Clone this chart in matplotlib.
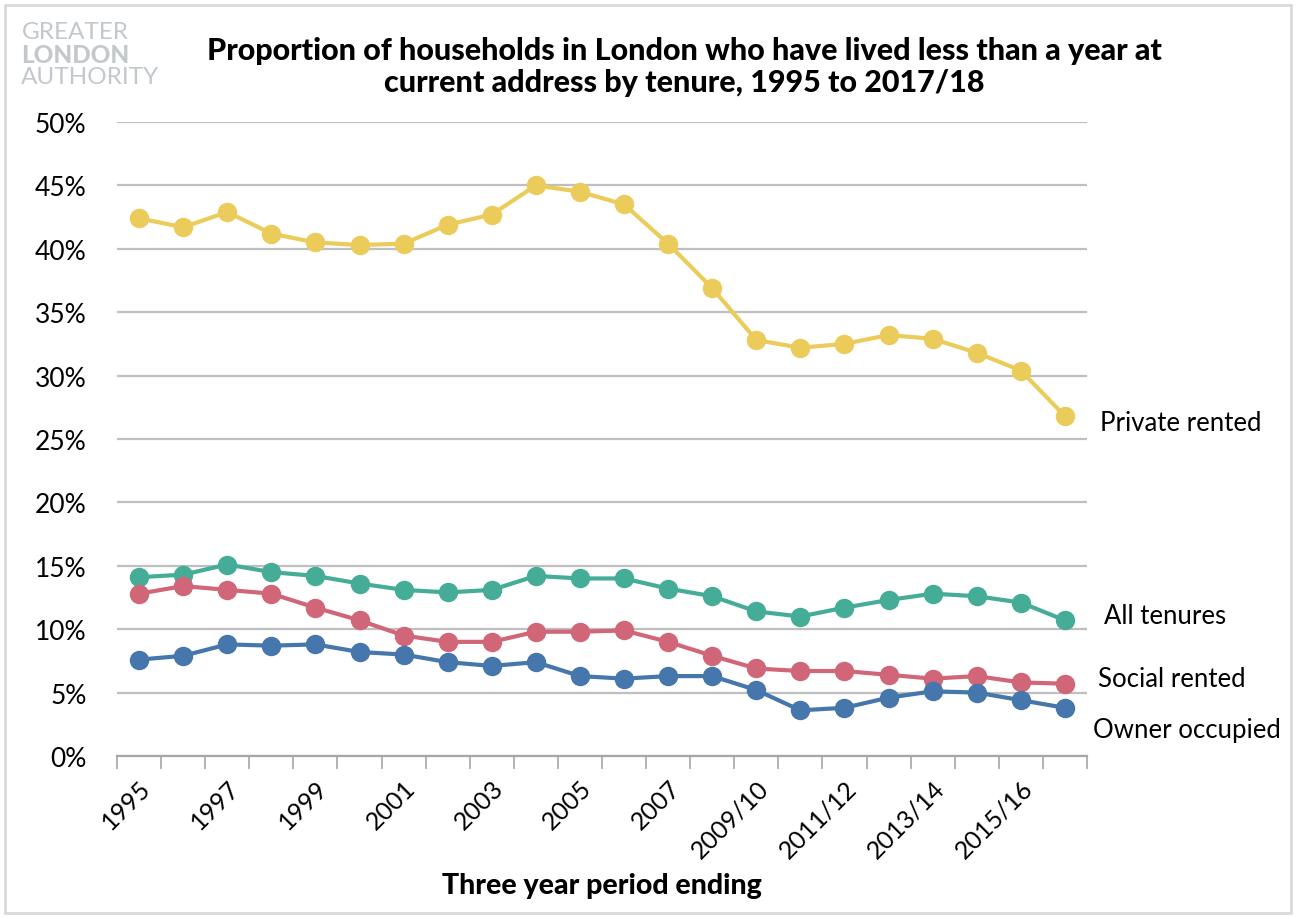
import numpy as np
import matplotlib
matplotlib.use("Agg")
import matplotlib.pyplot as plt
import matplotlib.transforms as mtransforms
from matplotlib.patches import Rectangle

plt.rcParams['font.family'] = ['Lato', 'DejaVu Sans']

periods = ["1995", "1996", "1997", "1998", "1999", "2000", "2001", "2002",
           "2003", "2004", "2005", "2006", "2007", "2008", "2009/10", "2010/11",
           "2011/12", "2012/13", "2013/14", "2014/15", "2015/16", "2016/17"]

private_rented = [42.4, 41.7, 42.9, 41.2, 40.5, 40.3, 40.4, 41.9, 42.7, 45.0, 44.5,
                  43.5, 40.4, 36.9, 32.8, 32.2, 32.5, 33.2, 32.9, 31.8, 30.4, 26.8]
all_tenures = [14.1, 14.3, 15.1, 14.5, 14.2, 13.6, 13.1, 12.9, 13.1, 14.2, 14.0,
               14.0, 13.2, 12.6, 11.4, 11.0, 11.7, 12.3, 12.8, 12.6, 12.1, 10.7]
social_rented = [12.8, 13.4, 13.1, 12.8, 11.7, 10.7, 9.5, 9.0, 9.0, 9.8, 9.8,
                 9.9, 9.0, 7.9, 6.9, 6.7, 6.7, 6.4, 6.1, 6.3, 5.8, 5.7]
owner_occupied = [7.6, 7.9, 8.8, 8.7, 8.8, 8.2, 8.0, 7.4, 7.1, 7.4, 6.3,
                  6.1, 6.3, 6.3, 5.2, 3.6, 3.8, 4.6, 5.1, 5.0, 4.4, 3.8]

series = [
    ("Private rented", private_rented, "#EBCB5A", 26.3),
    ("All tenures", all_tenures, "#45AD97", 11.1),
    ("Social rented", social_rented, "#D06677", 6.1),
    ("Owner occupied", owner_occupied, "#4576AC", 2.1),
]
label_x = [1.013, 1.018, 1.011, 1.006]

fig = plt.figure(figsize=(12.96, 9.2), dpi=100)
ax = fig.add_axes([0.0903, 0.1772, 0.7484, 0.6891])

x = np.arange(len(periods))
for (name, vals, col, ly), lx in zip(series, label_x):
    ax.plot(x, vals, color=col, lw=3, marker="o", markersize=13,
            solid_capstyle="round", zorder=3, clip_on=False)
    trans = mtransforms.blended_transform_factory(ax.transAxes, ax.transData)
    ax.text(lx, ly, name, transform=trans, fontsize=18.5, va="center",
            ha="left", color="black")

ax.set_xlim(-0.5, len(periods) - 0.5)
ax.set_ylim(0, 50)
ax.set_yticks(np.arange(0, 51, 5))
ax.set_yticklabels([f"{v}%" for v in range(0, 51, 5)], fontsize=19)
ax.yaxis.grid(True, color="#BFBFBF", lw=1.6)
ax.set_axisbelow(True)
ax.tick_params(axis="y", length=0, pad=22)

ax.set_xticks(x[::2])
ax.set_xticklabels(periods[::2], rotation=45, ha="right",
                   rotation_mode="anchor", fontsize=18)
shift = mtransforms.ScaledTranslation(-8 / 100, -4 / 100, fig.dpi_scale_trans)
for lab in ax.get_xticklabels():
    lab.set_transform(lab.get_transform() + shift)
ax.set_xticks(np.arange(-0.5, len(periods)), minor=True)
ax.tick_params(axis="x", which="major", length=0, pad=14)
ax.tick_params(axis="x", which="minor", length=9, width=1.2, color="#A6A6A6")

for s in ["top", "right", "left"]:
    ax.spines[s].set_visible(False)
ax.spines["bottom"].set_color("#A6A6A6")
ax.spines["bottom"].set_linewidth(1.6)

ax.set_xlabel("Three year period ending", fontsize=20.5, fontweight="black",
              labelpad=8)

fig.text(0.528, 0.927, "Proportion of households in London who have lived less than a year at\ncurrent address by tenure, 1995 to 2017/18",
         ha="center", va="center", fontsize=22, fontweight="black",
         linespacing=1.2)

# logo
fig.text(0.0165, 0.965, "GREATER", fontsize=17.5, color="#C3C8CC", va="center")
fig.text(0.0165, 0.940, "LONDON", fontsize=17.5, color="#C3C8CC", va="center",
         fontweight="black")
fig.text(0.0165, 0.916, "AUTHORITY", fontsize=17.5, color="#C3C8CC", va="center")

fig.patches.append(Rectangle((0.004, 0.006), 0.992, 0.988, transform=fig.transFigure,
                             fill=False, edgecolor="#D9D9D9", lw=2))

fig.savefig("out.png", dpi=100)
